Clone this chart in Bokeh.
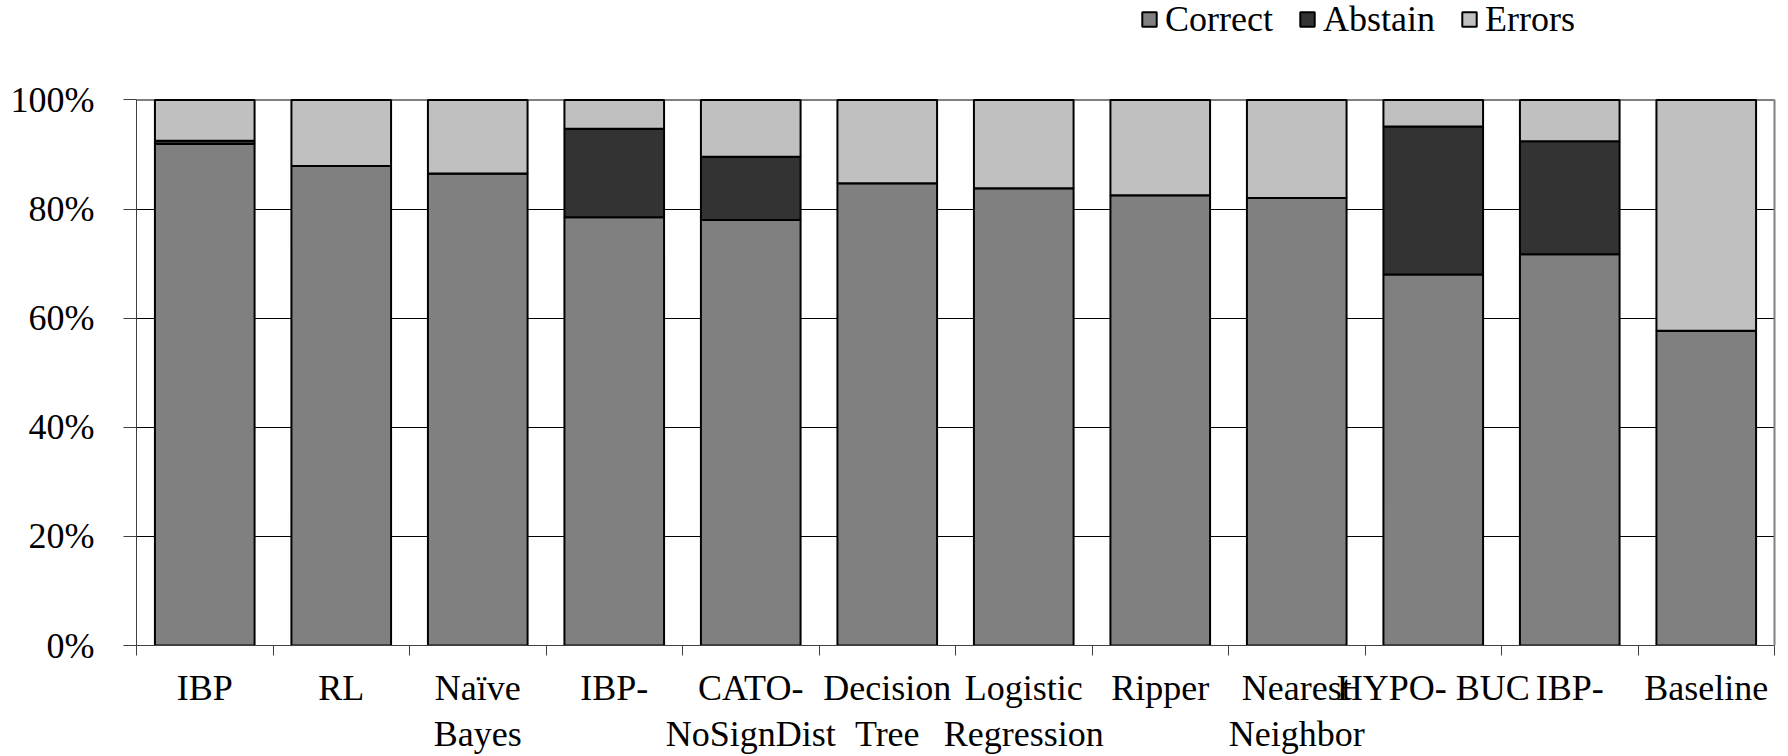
from bokeh.plotting import figure
from bokeh.models import ColumnDataSource, FixedTicker, Legend, LegendItem, Range1d, Span, LinearAxis
from bokeh.embed import file_html
from bokeh.resources import INLINE

categories = ["IBP", "RL", "Naïve\nBayes", "IBP-", "CATO-\nNoSignDist", "Decision\nTree",
              "Logistic\nRegression", "Ripper", "Nearest\nNeighbor", "HYPO- BUC", "IBP-", "Baseline"]
correct = [91.9, 87.9, 86.5, 78.5, 78.0, 84.7, 83.8, 82.5, 82.0, 68.0, 71.7, 57.7]
abstain = [0.6, 0.0, 0.0, 16.2, 11.6, 0.0, 0.0, 0.0, 0.0, 27.1, 20.7, 0.0]
errors = [round(100 - c - a, 1) for c, a in zip(correct, abstain)]
series = ["Correct", "Abstain", "Errors"]
colors = ["#808080", "#333333", "#C0C0C0"]
y_ticks = [0, 20, 40, 60, 80, 100]

FONT = "'Liberation Serif'"
FS = "36px"

n = len(categories)
x_centers = [i + 0.5 for i in range(n)]
src = ColumnDataSource(dict(x=x_centers, Correct=correct, Abstain=abstain, Errors=errors))

# frame spans the full canvas height above the x axis; 0..100 occupies the lower 549 px
FRAME_H = 649
Y_TOP = 100 * FRAME_H / 549

p = figure(width=1788, height=756, output_backend="svg", toolbar_location=None,
           x_range=Range1d(0, n), y_range=Range1d(0, Y_TOP),
           min_border_left=136, min_border_right=14, min_border_top=0, min_border_bottom=107)
p.outline_line_color = None
p.background_fill_color = "white"
p.border_fill_color = "white"

# grid
p.xgrid.grid_line_color = None
p.ygrid.ticker = FixedTicker(ticks=[20, 40, 60, 80])
p.ygrid.grid_line_color = "black"
p.ygrid.grid_line_width = 1
p.add_layout(Span(location=100, dimension="width", line_color="#808080", line_width=2, level="underlay"))

renderers = p.vbar_stack(series, x="x", width=0.73, color=colors, line_color="black",
                         line_width=2, source=src)

# y axis
p.yaxis.ticker = FixedTicker(ticks=y_ticks)
p.yaxis.bounds = (0, 100)
p.yaxis.major_label_overrides = {t: f"{t}%" for t in y_ticks}
p.yaxis.major_label_text_font = FONT
p.yaxis.major_label_text_font_size = FS
p.yaxis.major_label_text_color = "black"
p.yaxis.major_tick_out = 13
p.yaxis.major_tick_in = 0
p.yaxis.minor_tick_line_color = None
p.yaxis.major_label_standoff = 29
p.yaxis.axis_line_color = "#404040"
p.yaxis.major_tick_line_color = "#404040"

# right border of the plot area
right = LinearAxis(bounds=(0, 100), ticker=FixedTicker(ticks=[]), axis_line_color="#808080",
                   axis_line_width=2, major_label_text_font_size="0px")
p.add_layout(right, "right")

# x axis
p.xaxis.ticker = FixedTicker(ticks=x_centers, minor_ticks=list(range(n + 1)))
p.xaxis.major_label_overrides = {x: c for x, c in zip(x_centers, categories)}
p.xaxis.major_label_text_font = FONT
p.xaxis.major_label_text_font_size = FS
p.xaxis.major_label_text_line_height = 1.15
p.xaxis.major_label_text_color = "black"
p.xaxis.major_tick_out = 0
p.xaxis.major_tick_in = 0
p.xaxis.minor_tick_out = 10
p.xaxis.minor_tick_in = 0
p.xaxis.major_label_standoff = 12
p.xaxis.axis_line_color = "#404040"
p.xaxis.minor_tick_line_color = "#404040"

legend = Legend(items=[LegendItem(label=s, renderers=[r]) for s, r in zip(series, renderers)],
                orientation="horizontal", location=(1004, 605),
                padding=0, margin=0, border_line_color=None, background_fill_alpha=0,
                glyph_width=18, glyph_height=18, label_standoff=7, spacing=25,
                label_text_font=FONT, label_text_font_size=FS, label_text_color="black")
p.add_layout(legend, "center")

open("out.html", "w").write(file_html(p, INLINE))
